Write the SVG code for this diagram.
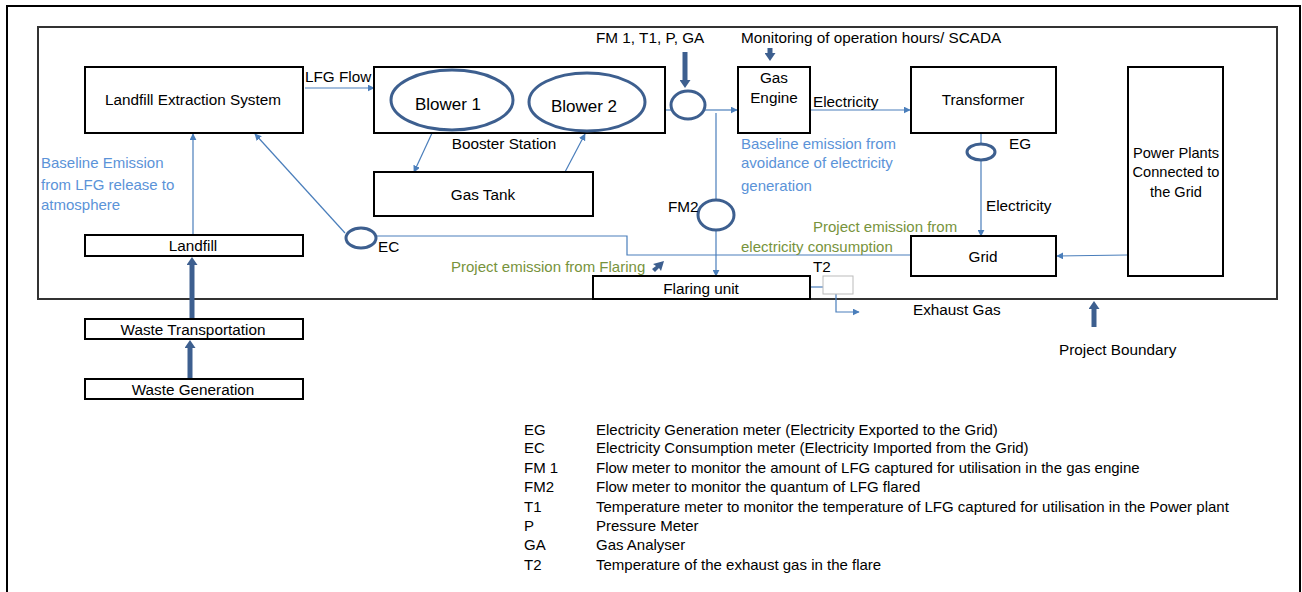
<svg xmlns="http://www.w3.org/2000/svg" width="1302" height="592" viewBox="0 0 1302 592">
<defs>
<style>
text{font-family:"Liberation Sans",Arial,sans-serif;font-size:15.3px;fill:#000}
.c{text-anchor:middle}
.blue{fill:#5b93d8;font-size:15px}
.green{fill:#77933c;font-size:15px}
.leg{font-size:15px}
.big{font-size:17px}
.pp{font-size:14.6px}
.box{fill:#fff;stroke:#000;stroke-width:2}
.ell{fill:none;stroke:#3d5f8f;stroke-width:3}
.ln{fill:none;stroke:#4a7ebb;stroke-width:1.2}
.thick{fill:none;stroke:#3d5f8f;stroke-width:5}
</style>
<marker id="ah" viewBox="0 0 10 10" refX="9" refY="5" markerWidth="7" markerHeight="7" markerUnits="userSpaceOnUse" orient="auto"><path d="M0,0 L10,5 L0,10 z" fill="#4a7ebb"/></marker>
<marker id="th" viewBox="0 0 8 11" refX="0" refY="5.5" markerWidth="8" markerHeight="11" markerUnits="userSpaceOnUse" orient="auto"><path d="M0,0 L8,5.5 L0,11 z" fill="#3d5f8f"/></marker>
</defs>
<rect width="1302" height="592" fill="#fff"/>
<rect id="frame" x="7" y="6" width="1293" height="600" fill="none" stroke="#000" stroke-width="2"/>
<g id="boundary"><rect x="38" y="27" width="1239" height="272" fill="none" stroke="#333" stroke-width="2"/></g>

<g id="connectors">
<line class="ln" x1="305" y1="88" x2="374" y2="88" marker-end="url(#ah)"/>
<line class="ln" x1="433" y1="131" x2="414" y2="172" marker-end="url(#ah)"/>
<line class="ln" x1="565" y1="172" x2="585" y2="134" marker-end="url(#ah)"/>
<line class="ln" x1="665" y1="110" x2="671" y2="110"/>
<line class="ln" x1="705" y1="110" x2="737" y2="110" marker-end="url(#ah)"/>
<line class="ln" x1="716" y1="113" x2="716" y2="200"/>
<line class="ln" x1="716" y1="230" x2="716" y2="276" marker-end="url(#ah)"/>
<line class="ln" x1="810" y1="110" x2="910" y2="110" marker-end="url(#ah)"/>
<line class="ln" x1="981" y1="131" x2="981" y2="144"/>
<line class="ln" x1="981" y1="160" x2="981" y2="236" marker-end="url(#ah)"/>
<line class="ln" x1="1127" y1="255" x2="1057" y2="256" marker-end="url(#ah)"/>
<polyline class="ln" points="376,236 627,236 627,255 911,255"/>
<line class="ln" x1="345" y1="233" x2="255" y2="134" marker-end="url(#ah)"/>
<line class="ln" x1="193" y1="234" x2="193" y2="134" marker-end="url(#ah)"/>
<line class="ln" x1="810" y1="287" x2="823" y2="287"/>
<polyline class="ln" points="836,294 836,312 859,312" marker-end="url(#ah)"/>
<line class="thick" x1="192" y1="318" x2="192" y2="265" marker-end="url(#th)"/>
<line class="thick" x1="190" y1="379" x2="190" y2="348" marker-end="url(#th)"/>
<line class="thick" x1="685" y1="52" x2="685" y2="80" marker-end="url(#th)"/>
<line class="thick" x1="770" y1="48" x2="770" y2="53" marker-end="url(#th)"/>
<line class="thick" x1="1094" y1="327" x2="1094" y2="309" marker-end="url(#th)"/>
<path d="M653,264 L664,261 L661,271 L659,268 L655,272 L652,269 L656,266 z" fill="#3d5f8f"/>
</g>

<g id="les"><rect class="box" x="85" y="67" width="218" height="66"/><text class="c" x="193" y="105">Landfill Extraction System</text></g>
<text x="305" y="82">LFG Flow</text>
<g id="booster"><rect class="box" x="374" y="67" width="291" height="66"/>
<ellipse class="ell" cx="452" cy="100" rx="61" ry="30"/><text class="c big" x="448" y="110">Blower 1</text>
<ellipse class="ell" cx="587" cy="102" rx="58" ry="29"/><text class="c big" x="584" y="112">Blower 2</text>
<text class="c" x="504" y="149">Booster Station</text></g>
<g id="gastank"><rect class="box" x="374" y="172" width="219" height="44"/><text class="c" x="483" y="200">Gas Tank</text></g>
<g id="fm1"><ellipse class="ell" cx="688" cy="105" rx="17" ry="14"/><text x="596" y="43">FM 1, T1, P, GA</text></g>
<g id="gasengine"><rect class="box" x="738" y="67" width="72" height="66"/><text class="c" x="774" y="83">Gas</text><text class="c" x="774" y="103">Engine</text></g>
<text x="741" y="43">Monitoring of operation hours/ SCADA</text>
<text x="813" y="107">Electricity</text>
<g id="transformer"><rect class="box" x="911" y="67" width="145" height="66"/><text class="c" x="983" y="105">Transformer</text></g>
<g id="eg"><ellipse class="ell" cx="981" cy="152" rx="14" ry="8" stroke-width="2.5"/><text x="1009" y="149">EG</text></g>
<text x="986" y="211">Electricity</text>
<g id="grid"><rect class="box" x="911" y="236" width="145" height="40"/><text class="c" x="983" y="262">Grid</text></g>
<g id="powerplants"><rect class="box" x="1128" y="67" width="95" height="209"/>
<text class="c pp" x="1176" y="158">Power Plants</text><text class="c pp" x="1176" y="177">Connected to</text><text class="c pp" x="1176" y="197">the Grid</text></g>
<g id="fm2"><ellipse class="ell" cx="716" cy="215" rx="18" ry="15"/><text x="668" y="212">FM2</text></g>
<g id="ec"><ellipse class="ell" cx="361" cy="238" rx="15" ry="10" stroke-width="2.5"/><text x="378" y="252">EC</text></g>
<g id="landfill"><rect class="box" x="85" y="235" width="218" height="21"/><text class="c" x="193" y="251">Landfill</text></g>
<g id="wastetrans"><rect class="box" x="85" y="319" width="218" height="20"/><text class="c" x="193" y="335">Waste Transportation</text></g>
<g id="wastegen"><rect class="box" x="85" y="379" width="218" height="20"/><text class="c" x="193" y="395">Waste Generation</text></g>
<g id="flaring"><rect class="box" x="593" y="276" width="217" height="23"/><text class="c" x="701" y="294">Flaring unit</text></g>
<g id="t2"><rect x="823" y="276" width="30" height="18" fill="#fff" stroke="#bbb" stroke-width="1"/><text x="813" y="272">T2</text></g>

<text class="blue" x="41" y="168">Baseline Emission</text>
<text class="blue" x="41" y="190">from LFG release to</text>
<text class="blue" x="41" y="210">atmosphere</text>
<text class="blue" x="741" y="149">Baseline emission from</text>
<text class="blue" x="741" y="168">avoidance of electricity</text>
<text class="blue" x="741" y="191">generation</text>
<text class="green" x="813" y="232">Project emission from</text>
<text class="green" x="741" y="252">electricity consumption</text>
<text class="green" x="451" y="272">Project emission from Flaring</text>
<text x="913" y="315">Exhaust Gas</text>
<text x="1059" y="355">Project Boundary</text>

<g id="legend">
<text class="leg" x="524" y="435">EG</text><text class="leg" x="596" y="435">Electricity Generation meter (Electricity Exported to the Grid)</text>
<text class="leg" x="524" y="453">EC</text><text class="leg" x="596" y="453">Electricity Consumption meter (Electricity Imported from the Grid)</text>
<text class="leg" x="524" y="473">FM 1</text><text class="leg" x="596" y="473">Flow meter to monitor the amount of LFG captured for utilisation in the gas engine</text>
<text class="leg" x="524" y="492">FM2</text><text class="leg" x="596" y="492">Flow meter to monitor the quantum of LFG flared</text>
<text class="leg" x="524" y="512">T1</text><text class="leg" x="596" y="512">Temperature meter to monitor the temperature of LFG captured for utilisation in the Power plant</text>
<text class="leg" x="524" y="531">P</text><text class="leg" x="596" y="531">Pressure Meter</text>
<text class="leg" x="524" y="550">GA</text><text class="leg" x="596" y="550">Gas Analyser</text>
<text class="leg" x="524" y="570">T2</text><text class="leg" x="596" y="570">Temperature of the exhaust gas in the flare</text>
</g>
</svg>
